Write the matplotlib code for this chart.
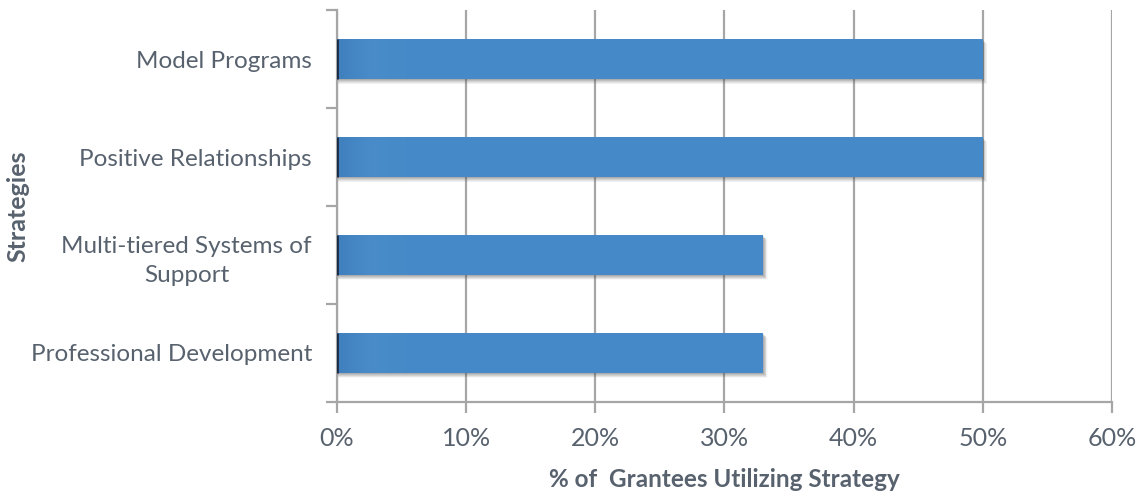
import numpy as np
import matplotlib.pyplot as plt
from matplotlib.ticker import PercentFormatter, FixedLocator

strategies = ['Professional Development', 'Multi-tiered Systems of\nSupport',
              'Positive Relationships', 'Model Programs']
pct_grantees = [33.0, 33.0, 50.0, 50.0]

bar_color = '#4589C8'
text_color = '#58626E'
grid_color = '#A6A6A6'

plt.rcParams['font.family'] = ['Lato', 'DejaVu Sans']

fig = plt.figure(figsize=(11.4, 4.91), dpi=100)
ax = fig.add_axes([0.2956, 0.1813, 0.6798, 0.7983])

y = np.arange(len(strategies))
height = 0.41

# soft drop shadow under each bar
for k, a in zip(range(1, 7), [0.16, 0.14, 0.11, 0.08, 0.05, 0.03]):
    ax.barh(y - k * 0.009, [v + 0.06 * k for v in pct_grantees], height=height,
            color='#505050', alpha=a, zorder=2, linewidth=0)

bars = ax.barh(y, pct_grantees, height=height, color=bar_color, zorder=3, linewidth=0)

# slight horizontal shading on the bars
grad = np.linspace(0, 1, 256).reshape(1, -1)
cmap = plt.matplotlib.colors.LinearSegmentedColormap.from_list(
    'shade', ['#3F7FBD', '#4A8CCA', '#468AC8', '#4589C8'])
for b in bars:
    x0, y0, w, h = b.get_x(), b.get_y(), b.get_width(), b.get_height()
    im = ax.imshow(grad, extent=[x0, x0 + min(w, 8), y0, y0 + h], aspect='auto',
                   cmap=cmap, zorder=3.5, interpolation='bicubic')
    im.set_clip_path(b)
    ax.vlines(0, y0, y0 + h, color='#1A2A44', linewidth=2, zorder=4)

ax.set_xlim(0, 60)
ax.set_ylim(-0.5, len(strategies) - 0.5)
ax.xaxis.set_major_locator(FixedLocator(np.arange(0, 61, 10)))
ax.xaxis.set_major_formatter(PercentFormatter(decimals=0))
ax.set_yticks(y)
ax.set_yticklabels(strategies, ha='right', multialignment='center', linespacing=1.5)
ax.yaxis.set_minor_locator(FixedLocator(np.arange(-0.5, len(strategies), 1)))

ax.grid(axis='x', color=grid_color, linewidth=1.6, zorder=1)
ax.set_axisbelow(True)
for side in ['top', 'right']:
    ax.spines[side].set_visible(False)
for side in ['left', 'bottom']:
    ax.spines[side].set_color(grid_color)
    ax.spines[side].set_linewidth(1.6)

ax.tick_params(axis='y', which='major', length=0, pad=18, labelsize=17.5,
               labelcolor=text_color)
ax.tick_params(axis='y', which='minor', length=8, width=1.6, color=grid_color)
ax.tick_params(axis='x', length=8, width=1.6, color=grid_color, labelsize=18,
               labelcolor=text_color, pad=10)
ax.tick_params(axis='x', which='minor', length=0)

ax.set_xlabel('% of  Grantees Utilizing Strategy', fontsize=17.5, fontweight='bold',
              color=text_color, labelpad=13)
fig.text(0.016, 0.58, 'Strategies', rotation=90, fontsize=18, fontweight='bold',
         color=text_color, ha='center', va='center')

fig.savefig('out.png', dpi=100)
